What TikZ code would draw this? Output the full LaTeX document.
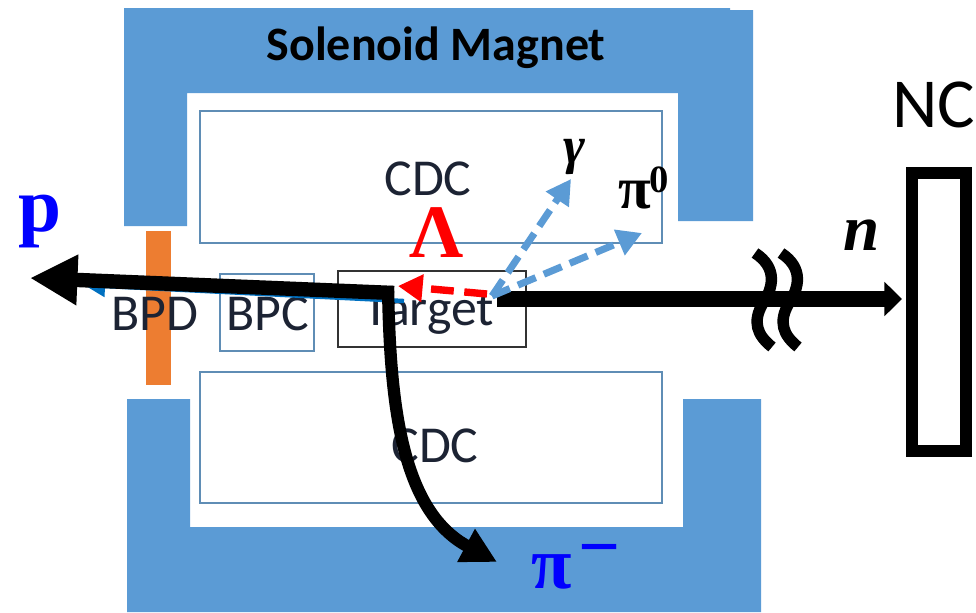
\documentclass[tikz,border=0pt]{standalone}
\usepackage{fontspec}
\setmainfont{Carlito}
\newfontfamily\labelfont{Liberation Serif}
\usetikzlibrary{arrows.meta}

\definecolor{magblue}{HTML}{5B9BD5}
\definecolor{boxblue}{HTML}{5F8DB5}
\definecolor{bpdorange}{HTML}{ED7D31}
\definecolor{beamblue}{HTML}{0070C0}
\definecolor{detink}{HTML}{1C2333}

\tikzset{
  detbox/.style={draw=boxblue, line width=1.1pt},
  dettext/.style={text=detink, font=\fontsize{29.5}{32}\selectfont, inner sep=0pt},
  heavy/.style={line width=8.2pt, -{Triangle[length=27pt,width=27pt]}},
  thinheavy/.style={line width=7pt, -{Triangle[length=20pt,width=20pt]}},
  gammaarrow/.style={magblue, line width=4pt, dash pattern=on 11pt off 5pt, -{Triangle[length=14pt,width=15pt]}},
  lambdaarrow/.style={red, line width=4.2pt, dash pattern=on 13pt off 6pt, -{Triangle[length=14pt,width=15pt]}},
  tilde/.style={line width=6.5pt},
}

\begin{document}
\begin{tikzpicture}[x=0.02cm,y=-0.02cm]
\useasboundingbox (0,0) rectangle (976,612);

% -----------------------------
% Solenoid magnet
% -----------------------------
\fill[magblue] (124,8) -- (730,8) -- (730,10) -- (753,10) -- (753,221) -- (678,221)
  -- (678,93) -- (187,93) -- (187,226) -- (124,226) -- cycle;
\fill[magblue] (127,399) -- (190,399) -- (190,527) -- (683,527) -- (683,399)
  -- (761,399) -- (761,612) -- (127,612) -- cycle;
\node[font=\fontsize{27.3}{30}\selectfont\bfseries, inner sep=0pt] (magnet) at (436,48) {Solenoid Magnet};

% -----------------------------
% Detectors
% -----------------------------
\draw[detbox] (200,111) rectangle (662,243);
\draw[detbox] (200,372) rectangle (662,503);
\draw[detbox] (220,274) rectangle (314,351);
\draw[draw=black!80, line width=1.1pt] (338,271) rectangle (526,347);
\fill[bpdorange] (146,231) rectangle (171,385);

\node[dettext] (cdcup) at (428,179) {CDC};
\node[dettext] (cdcdown) at (435,446) {CDC};
\node[dettext] (bpd) at (155,314) {BPD};
\node[dettext] (bpc) at (268,314) {BPC};
\node[dettext, anchor=base] (target) at (429,325) {Target};

% neutron counter
\draw[line width=6.8pt] (912,173) rectangle (966,451);
\node[font=\fontsize{40}{44}\selectfont, anchor=base west, inner sep=0pt] (nc) at (892,127) {NC};

% -----------------------------
% Tracks
% -----------------------------
\coordinate (vtxp) at (394,293);
\coordinate (vtxpi) at (388,286);
\coordinate (vtxn) at (497,299);
\coordinate (vtxl) at (487,294);
\coordinate (vtxg) at (492,296);
\coordinate (endp) at (30,278);
\coordinate (endpi) at (497,562);
\coordinate (endn) at (902,299);
\coordinate (endl) at (398,286);
\coordinate (endg) at (571,179);
\coordinate (endz) at (642,233);
\coordinate (beamin) at (404,301);
\coordinate (beamout) at (84,285);

% beam, almost hidden below the proton
\draw[beamblue, line width=2.5pt, -{Triangle[length=12pt,width=12pt]}] (beamin) -- (beamout);

\draw[heavy] (vtxp) -- (endp);
\draw[thinheavy] (vtxpi) .. controls (390,400) and (400,510) .. (endpi);
\draw[line width=9pt, -{Triangle[length=10pt,width=19pt]}] (vtxn) -- (endn);
\draw[lambdaarrow] (vtxl) -- (endl);
\draw[gammaarrow] (vtxg) -- (endg);
\draw[gammaarrow] (vtxg) -- (endz);

% break marks on the neutron line
\foreach \dx in {0,26} {
  \draw[tilde] (755+\dx,253) .. controls (778+\dx,268) and (773+\dx,288) .. (763+\dx,303)
    .. controls (752+\dx,322) and (757+\dx,335) .. (772+\dx,347);
}

% -----------------------------
% Labels
% -----------------------------
\node[text=blue, font=\labelfont\fontsize{44}{46}\selectfont\bfseries, anchor=base, inner sep=0pt] (protonlab) at (40,231) {p};
\node[text=red, font=\labelfont\fontsize{43}{45}\selectfont\bfseries, anchor=base, inner sep=0pt] (lambdalab) at (437,257) {Λ};
\node[font=\labelfont\fontsize{30}{32}\selectfont\bfseries\itshape, inner sep=0pt] (gammalab) at (574,157) {γ};
\node[font=\labelfont\fontsize{34}{36}\selectfont\bfseries, anchor=base west, inner sep=0pt] (pizlab) at (618,208) {π\kern-1pt\raisebox{9pt}{\fontsize{22}{24}\selectfont 0}};
\node[font=\labelfont\fontsize{37}{40}\selectfont\bfseries\itshape, anchor=base, inner sep=0pt] (nlab) at (862,250) {n};
\node[text=blue, font=\labelfont\fontsize{42}{44}\selectfont\bfseries, anchor=base west, inner sep=0pt] (pimlab) at (531,588) {π\kern4pt\raisebox{9.5pt}{−}};
\end{tikzpicture}
\end{document}
